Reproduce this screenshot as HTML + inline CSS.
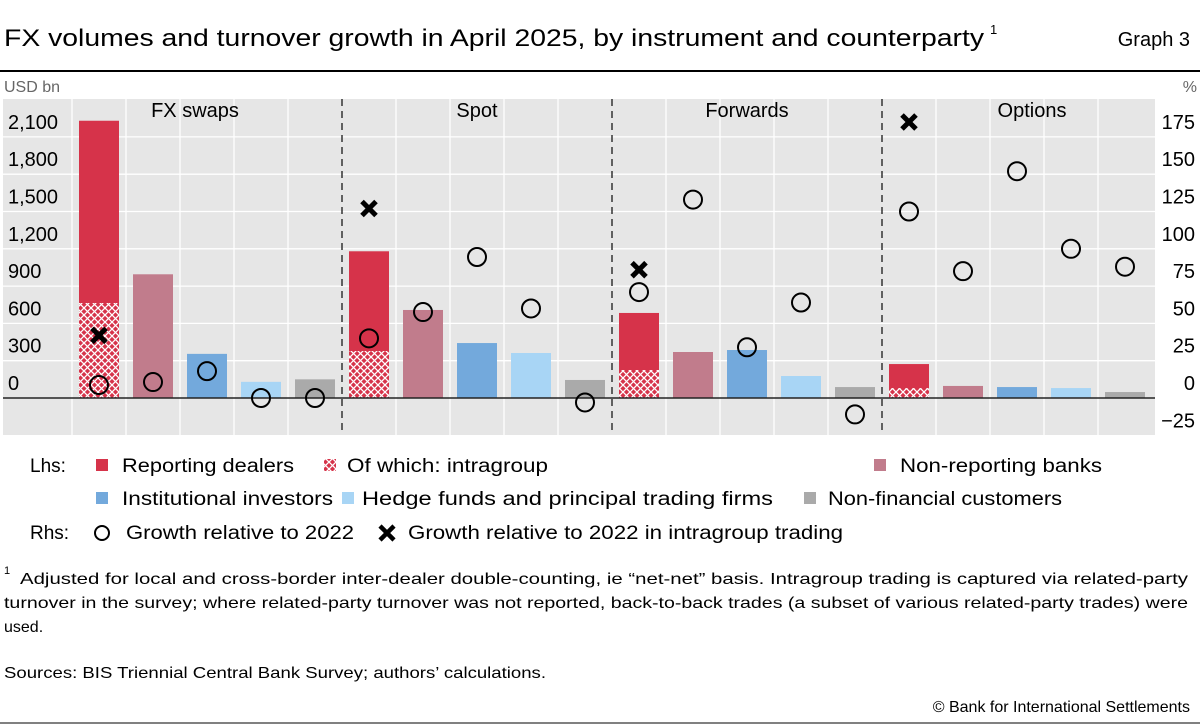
<!DOCTYPE html>
<html><head><meta charset="utf-8"><style>
html,body{margin:0;padding:0;background:#fff;}
svg{display:block;font-family:"Liberation Sans",sans-serif;}
</style></head><body>
<svg id="chart" width="1200" height="726" viewBox="0 0 1200 726" xmlns="http://www.w3.org/2000/svg">
<defs>
<pattern id="hatch" patternUnits="userSpaceOnUse" width="7" height="7">
<rect width="7" height="7" fill="#d6334a"/>
<path d="M0,0L7,7M7,0L0,7" stroke="#fff" stroke-width="1.3"/>
</pattern>
</defs>
<text x="4" y="46" font-size="24" fill="#000" textLength="980" lengthAdjust="spacingAndGlyphs">FX volumes and turnover growth in April 2025, by instrument and counterparty</text>
<text x="990" y="34" font-size="13">1</text>
<text x="1190" y="46" font-size="20" text-anchor="end">Graph 3</text>
<line x1="0" y1="71" x2="1200" y2="71" stroke="#000" stroke-width="2"/>
<text x="4" y="92" font-size="16" fill="#666">USD bn</text>
<text x="1197" y="92" font-size="16" fill="#666" text-anchor="end">%</text>
<rect x="3" y="99" width="1152" height="336" fill="#e6e6e6"/>
<g id="grid"></g>
<g id="marks"></g>
<g id="legend" font-size="19" fill="#000">
<text x="30" y="472">Lhs:</text>
<rect x="96" y="459" width="12" height="12" fill="#d6334a"/>
<text x="122" y="472" textLength="172" lengthAdjust="spacingAndGlyphs">Reporting dealers</text>
<rect x="324" y="459" width="12" height="12" fill="url(#hatch)"/>
<text x="347" y="472" textLength="201" lengthAdjust="spacingAndGlyphs">Of which: intragroup</text>
<rect x="874" y="459" width="12" height="12" fill="#c17c8c"/>
<text x="900" y="472" textLength="202" lengthAdjust="spacingAndGlyphs">Non-reporting banks</text>
<rect x="96" y="492" width="12" height="12" fill="#73a9dc"/>
<text x="122" y="505" textLength="211" lengthAdjust="spacingAndGlyphs">Institutional investors</text>
<rect x="342" y="492" width="12" height="12" fill="#a8d5f5"/>
<text x="362" y="505" textLength="411" lengthAdjust="spacingAndGlyphs">Hedge funds and principal trading firms</text>
<rect x="804" y="492" width="12" height="12" fill="#aaaaaa"/>
<text x="828" y="505" textLength="234" lengthAdjust="spacingAndGlyphs">Non-financial customers</text>
<text x="30" y="539">Rhs:</text>
<circle cx="102" cy="533" r="7" fill="none" stroke="#000" stroke-width="2"/>
<text x="126" y="539" textLength="228" lengthAdjust="spacingAndGlyphs">Growth relative to 2022</text>
<path d="M380,526L394,540M394,526L380,540" stroke="#000" stroke-width="4.5"/>
<text x="408" y="539" textLength="435" lengthAdjust="spacingAndGlyphs">Growth relative to 2022 in intragroup trading</text>
</g>
<g font-size="16" fill="#000">
<text x="4" y="574" font-size="11">1</text>
<text x="20" y="584" textLength="1168" lengthAdjust="spacingAndGlyphs">Adjusted for local and cross-border inter-dealer double-counting, ie “net-net” basis. Intragroup trading is captured via related-party</text>
<text x="4" y="608" textLength="1184" lengthAdjust="spacingAndGlyphs">turnover in the survey; where related-party turnover was not reported, back-to-back trades (a subset of various related-party trades) were</text>
<text x="4" y="632">used.</text>
<text x="4" y="678" textLength="542" lengthAdjust="spacingAndGlyphs">Sources: BIS Triennial Central Bank Survey; authors’ calculations.</text>
<text x="1190" y="712" text-anchor="end">© Bank for International Settlements</text>
</g>
<line x1="0" y1="723" x2="1200" y2="723" stroke="#000" stroke-width="1"/>
</svg>
<script>
const instruments = ["FX swaps","Spot","Forwards","Options"];
const counterparties = ["Reporting dealers","Non-reporting banks","Institutional investors","Hedge funds and PTFs","Non-financial customers"];
const volFxSwaps = [2230, 995, 355, 130, 150];
const volSpot = [1180, 708, 442, 362, 145];
const volForwards = [684, 370, 386, 177, 88];
const volOptions = [273, 97, 88, 80, 48];
const intragroupVol = [764, 378, 225, 80];
const growthFxSwaps = [8.7, 10.7, 18, 0, 0];
const growthSpot = [40, 57.6, 94.5, 60, -3];
const growthForwards = [71, 133, 34, 64, -11];
const growthOptions = [125, 85, 152, 100, 88];
const growthIntragroup = [42, 127, 86, 185];
const leftTicks = [0, 300, 600, 900, 1200, 1500, 1800, 2100];
const rightTicks = [-25, 0, 25, 50, 75, 100, 125, 150, 175];

const NS = "http://www.w3.org/2000/svg";
const plotL = 72, groupW = 270, colW = 54, barW = 40;
const y0 = 398, pxPerLeft = 37.3 / 300, pxPerRight = 37.3 / 25;
function yL(v){ return y0 - v * pxPerLeft; }
function yR(v){ return y0 - v * pxPerRight; }
function xC(g, c){ return plotL + g * groupW + c * colW + colW / 2; }
function mk(tag, attrs, parent){ const e = document.createElementNS(NS, tag); for (const k in attrs) e.setAttribute(k, attrs[k]); parent.appendChild(e); return e; }

const grid = document.getElementById("grid");
const marks = document.getElementById("marks");

rightTicks.forEach(t => {
  if (t === -25) return;
  const l = mk("line", {x1: 3, x2: 1155, y1: yR(t), y2: yR(t), stroke: "#fff", "stroke-width": 1.3}, grid);
  
  
});
for (let g = 0; g < 4; g++) {
  for (let c = 0; c < 5; c++) {
    if (g > 0 && c === 0) continue;
    const x = plotL + g * groupW + c * colW;
    const l = mk("line", {x1: x, x2: x, y1: 99, y2: 435, stroke: "#fff", "stroke-width": 1.3}, grid);
    
    
  }
  if (g > 0) {
    const x = plotL + g * groupW;
    const d = mk("line", {x1: x, x2: x, y1: 99, y2: 435, stroke: "#333", "stroke-width": 1.5, "stroke-dasharray": "7,5"}, grid);
    
    
  }
  const tl = mk("text", {x: plotL + g * groupW + groupW / 2 + (g === 0 ? -12 : g === 3 ? 15 : 0), y: 117, "font-size": 20, "text-anchor": "middle"}, grid);
  tl.textContent = instruments[g];
  
  
}
leftTicks.forEach(t => {
  const tx = mk("text", {x: 8, y: yL(t) - 8, "font-size": 20}, grid);
  tx.textContent = t.toLocaleString("en-US");
  
  
});
rightTicks.forEach(t => {
  const tx = mk("text", {x: 1195, y: yR(t) - 8, "font-size": 20, "text-anchor": "end"}, grid);
  tx.textContent = t < 0 ? "\u2212" + Math.abs(t) : String(t);
  
  
});

const colors = ["#d6334a", "#c17c8c", "#73a9dc", "#a8d5f5", "#aaaaaa"];
const vols = [volFxSwaps, volSpot, volForwards, volOptions];
const growths = [growthFxSwaps, growthSpot, growthForwards, growthOptions];
for (let g = 0; g < 4; g++) {
  for (let c = 0; c < 5; c++) {
    const x = xC(g, c);
    const v = vols[g][c];
    const r = mk("rect", {x: x - barW / 2, y: yL(v), width: barW, height: y0 - yL(v), fill: colors[c]}, marks);
    
    
    if (c === 0) {
      const iv = intragroupVol[g];
      const h = mk("rect", {x: x - barW / 2, y: yL(iv), width: barW, height: y0 - yL(iv), fill: "url(#hatch)"}, marks);
      
      
    }
  }
}
const axis = mk("line", {x1: 3, x2: 1155, y1: y0, y2: y0, stroke: "#222", "stroke-width": 1.5}, marks);


for (let g = 0; g < 4; g++) {
  for (let c = 0; c < 5; c++) {
    const ci = mk("circle", {cx: xC(g, c), cy: yR(growths[g][c]), r: 9, fill: "none", stroke: "#000", "stroke-width": 2}, marks);
    
    
  }
  const cx = xC(g, 0), cy = yR(growthIntragroup[g]);
  const xm = mk("path", {d: `M${cx-7},${cy-7}L${cx+7},${cy+7}M${cx+7},${cy-7}L${cx-7},${cy+7}`, stroke: "#000", "stroke-width": 5}, marks);
  
  
}
</script>
</body></html>
